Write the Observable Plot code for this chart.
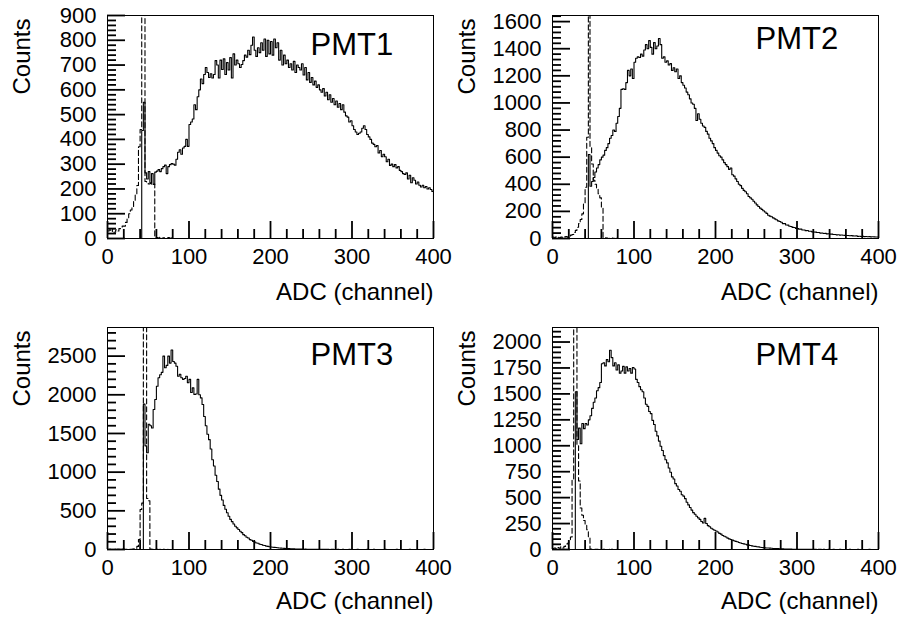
<!DOCTYPE html>
<html>
<head>
<meta charset="utf-8">
<script src="https://cdn.jsdelivr.net/npm/d3@7"></script>
<script src="https://cdn.jsdelivr.net/npm/@observablehq/plot@0.6"></script>
<style>
  html, body { margin: 0; padding: 0; background: #fff; }
  #chart { position: relative; width: 900px; height: 618px; overflow: hidden; }
  #chart svg { position: absolute; overflow: visible; }
</style>
</head>
<body>
<div id="chart"></div>
<script>
// ---- data: ADC histograms, 2-channel bins starting at channel 0 ----
const binWidth = 2;
const adcRange = [0, 400];
const xLabelTicks = [0, 100, 200, 300, 400];
const xMinorStep = 20;

// PMT1 signal (solid), 200 bins
const pmt1Signal = [
  0,0,0,0,0,0,0,0,0,0,0,0,0,0,0,0,0,0,0,0,
  0,436,550,265,240,270,225,262,218,268,272,278,270,282,290,296,262,290,298,302,
  300,296,320,348,358,340,365,372,400,372,460,470,482,540,520,572,600,644,625,662,
  690,670,650,665,648,662,718,700,648,720,682,725,662,710,680,730,648,745,700,720,
  705,690,702,718,740,732,760,742,780,813,760,735,770,750,790,760,805,735,800,745,
  795,740,805,770,790,720,760,700,740,705,720,690,705,680,715,670,700,690,680,705,
  660,690,640,670,630,650,620,635,610,620,600,590,605,575,590,560,580,550,565,540,
  555,530,545,520,540,510,495,490,470,475,455,440,430,420,425,430,445,455,440,420,
  410,400,385,380,370,375,345,355,330,340,330,310,320,295,300,290,298,285,290,275,
  270,262,258,265,240,255,225,245,235,220,228,215,208,215,205,210,200,205,198,190
];
// PMT1 pedestal (dashed), channels 0-78
const pmt1Pedestal = [
  30,35,28,40,25,35,30,40,45,50,
  50,65,80,100,115,125,150,180,214,370,
  440,6200,5800,230,225,220,222,218,220,8,
  4,2,5,1,3,0,2,4,1,3
];

// PMT2
const pmt2Signal = [
  0,0,0,0,0,0,0,0,0,0,0,0,0,0,0,0,0,0,0,0,
  0,0,620,385,420,450,490,520,545,580,600,615,650,670,700,740,760,800,790,850,
  900,960,1100,1105,1100,1150,1240,1200,1250,1180,1300,1330,1340,1335,1360,1345,1390,1430,1400,1460,
  1410,1360,1445,1400,1420,1475,1430,1330,1340,1300,1310,1280,1290,1240,1260,1230,1250,1180,1200,1150,
  1130,1110,1080,1060,1030,1000,990,960,870,920,880,850,830,820,790,770,740,720,700,670,
  650,630,610,600,580,560,545,530,510,520,470,460,440,420,400,390,370,355,345,330,
  310,300,290,275,262,248,236,224,215,205,195,185,172,165,160,152,145,138,130,125,
  120,110,110,100,99,90,89,82,81,75,74,69,69,63,63,58,59,54,54,49,
  48,47,44,44,40,41,37,38,34,35,32,32,29,30,27,28,25,26,24,23,
  22,22,20,21,19,18,19,16,17,15,16,14,15,13,14,12,13,12,11,11
];
const pmt2Pedestal = [
  10,6,12,8,5,10,8,12,15,10,
  18,25,30,45,60,83,110,140,182,260,
  378,747,9000,670,550,430,400,370,330,300,
  230,10,5,3,0,2,4,1,0,2
];

// PMT3
const pmt3Signal = [
  0,0,0,0,0,0,0,0,0,0,0,0,0,0,0,0,0,0,0,0,
  0,0,1880,1340,1250,1620,1600,1570,1810,1940,2110,2220,2260,2290,2500,2350,2380,2500,2410,2580,
  2430,2410,2370,2240,2265,2220,2200,2210,2240,2155,2200,2030,2090,2005,2010,2200,2000,1960,1875,1720,
  1600,1490,1420,1300,1160,1080,960,880,780,700,640,570,520,475,430,390,360,330,300,280,
  258,236,218,192,178,158,148,128,120,103,97,84,80,68,64,54,51,44,41,35,
  33,30,27,25,22,20,18,16,15,13,12,11,10,9,8,7,7,6,5,5,
  4,5,3,4,3,3,2,3,2,2,1,2,1,1,2,1,0,1,1,0,
  0,1,0,0,1,0,0,0,1,0,0,0,0,1,0,0,0,0,0,1,
  0,0,0,1,0,0,0,0,0,0,1,0,0,0,0,0,0,1,0,0,
  0,0,0,0,0,1,0,0,0,0,0,0,0,0,1,0,0,0,0,0
];
const pmt3Pedestal = [
  0,2,0,1,3,0,2,1,0,2,
  1,3,2,4,3,5,8,15,40,130,
  517,600,20000,18000,660,630,5,3,0,2,
  1,0,2,0,1,0,0,1,0,0
];

// PMT4
const pmt4Signal = [
  0,0,0,0,0,0,0,0,0,0,0,0,0,0,1520,1060,1170,1020,1215,1165,
  1215,1200,1250,1290,1360,1420,1460,1530,1560,1610,1790,1800,1770,1830,1810,1920,1850,1770,1800,1730,
  1780,1700,1720,1765,1700,1760,1720,1745,1700,1755,1740,1640,1610,1570,1540,1520,1460,1400,1380,1330,
  1310,1245,1205,1140,1095,1045,995,955,905,865,835,785,745,700,680,635,612,578,562,528,
  515,490,455,430,405,380,355,340,320,305,290,270,255,300,250,230,220,205,195,185,
  178,168,155,148,135,128,120,110,102,96,90,84,78,74,68,62,58,54,50,45,
  42,38,35,32,30,27,25,22,20,18,16,15,14,13,12,10,9,8,8,7,
  6,6,5,5,4,4,4,3,3,3,2,3,2,2,2,1,2,1,1,1,
  1,1,0,1,1,0,1,0,0,1,0,0,1,0,0,0,1,0,0,0,
  0,0,1,0,0,0,0,1,0,0,0,0,0,0,1,0,0,0,0,0
];
const pmt4Pedestal = [
  10,15,8,20,12,25,15,30,40,60,
  95,120,670,12000,12000,1000,660,400,330,280,
  240,190,120,4,3,0,2,1,0,2,
  0,1,0,0,2,0,1,0,0,1
];

// y axis tick labels and ranges per panel
const pmt1YTicks = [0,100,200,300,400,500,600,700,800,900];
const pmt2YTicks = [0,200,400,600,800,1000,1200,1400,1600];
const pmt3YTicks = [0,500,1000,1500,2000,2500];
const pmt4YTicks = [0,250,500,750,1000,1250,1500,1750,2000];
const yMaxes = [900, 1645, 2870, 2140];
const yMinorSteps = [20, 40, 100, 50];
const panelNames = ["PMT1", "PMT2", "PMT3", "PMT4"];
const xTitle = "ADC (channel)";
const yTitle = "Counts";

// ---- layout ----
const FONT = "'Liberation Sans', Arial, Helvetica, sans-serif";
const W = 450, H = 309;
const layouts = [
  {left: 0,   top: 0,   m: {top: 15, right: 17, bottom: 71, left: 107}, titleDy: 39, xTitleDy: 54},
  {left: 450, top: 0,   m: {top: 15, right: 22, bottom: 71, left: 102}, titleDy: 33, xTitleDy: 54},
  {left: 0,   top: 309, m: {top: 18, right: 17, bottom: 69, left: 107}, titleDy: 37, xTitleDy: 52},
  {left: 450, top: 309, m: {top: 18, right: 22, bottom: 69, left: 102}, titleDy: 37, xTitleDy: 52}
];
const signals = [pmt1Signal, pmt2Signal, pmt3Signal, pmt4Signal];
const pedestals = [pmt1Pedestal, pmt2Pedestal, pmt3Pedestal, pmt4Pedestal];
const yTickSets = [pmt1YTicks, pmt2YTicks, pmt3YTicks, pmt4YTicks];

function histPoints(values) {
  const pts = values.map((v, i) => ({ch: i * binWidth, n: v}));
  pts.push({ch: values.length * binWidth, n: 0});
  if (values.length * binWidth < adcRange[1]) pts.push({ch: adcRange[1], n: 0});
  return pts;
}
const isIn = (list, v) => list.some(t => Math.abs(t - v) < 1e-6);

const container = document.getElementById("chart");

for (let p = 0; p < 4; p++) {
  const L = layouts[p];
  const yMax = yMaxes[p];
  const frameW = W - L.m.left - L.m.right;
  const frameH = H - L.m.top - L.m.bottom;

  const xAll = d3.range(adcRange[0], adcRange[1] + 1e-9, xMinorStep);
  const xMajor = xAll.filter(v => isIn(xLabelTicks, v));
  const xMinor = xAll.filter(v => !isIn(xLabelTicks, v));
  const yAll = d3.range(0, yMax + 1e-9, yMinorSteps[p]);
  const yMajor = yAll.filter(v => isIn(yTickSets[p], v));
  const yMinor = yAll.filter(v => !isIn(yTickSets[p], v));

  const svg = Plot.plot({
    width: W,
    height: H,
    marginTop: L.m.top,
    marginRight: L.m.right,
    marginBottom: L.m.bottom,
    marginLeft: L.m.left,
    style: {fontFamily: FONT, fontSize: "22px", background: "transparent", color: "#000", overflow: "visible"},
    x: {domain: adcRange, ticks: xLabelTicks, tickSize: 0, tickPadding: 10, tickFormat: "d", label: null},
    y: {domain: [0, yMax], ticks: yTickSets[p], tickSize: 0, tickPadding: 11, tickFormat: "d", label: null},
    marks: [
      Plot.line(histPoints(pedestals[p]), {
        x: "ch", y: "n", curve: "step-after", stroke: "#000", strokeWidth: 1.1,
        strokeDasharray: "5,3", clip: true
      }),
      Plot.line(histPoints(signals[p]), {
        x: "ch", y: "n", curve: "step-after", stroke: "#000", strokeWidth: 1.1, clip: true
      }),
      // inward ticks: full-frame ticks inset so only the wanted pixel length remains
      Plot.tickX(xMajor, {x: d => d, insetTop: frameH - 17, stroke: "#000", strokeWidth: 1.8}),
      Plot.tickX(xMinor, {x: d => d, insetTop: frameH - 9, stroke: "#000", strokeWidth: 1.8}),
      Plot.tickY(yMajor, {y: d => d, insetRight: frameW - 18, stroke: "#000", strokeWidth: 1.8}),
      Plot.tickY(yMinor, {y: d => d, insetRight: frameW - 9, stroke: "#000", strokeWidth: 1.8}),
      Plot.frame({stroke: "#000", strokeWidth: 1}),
      Plot.text([panelNames[p]], {
        text: d => d, frameAnchor: "top-left", dx: 203, dy: L.titleDy,
        textAnchor: "start", lineAnchor: "bottom", fontSize: 31, fill: "#000"
      }),
      Plot.text([yTitle], {
        text: d => d, frameAnchor: "top-left", dx: -85, dy: 3, rotate: -90,
        textAnchor: "end", lineAnchor: "middle", fontSize: 24, fill: "#000"
      }),
      Plot.text([xTitle], {
        text: d => d, frameAnchor: "bottom-right", dx: 0, dy: L.xTitleDy,
        textAnchor: "end", lineAnchor: "middle", fontSize: 24, fill: "#000"
      })
    ]
  });
  svg.style.left = L.left + "px";
  svg.style.top = L.top + "px";
  container.appendChild(svg);
}
</script>
</body>
</html>
